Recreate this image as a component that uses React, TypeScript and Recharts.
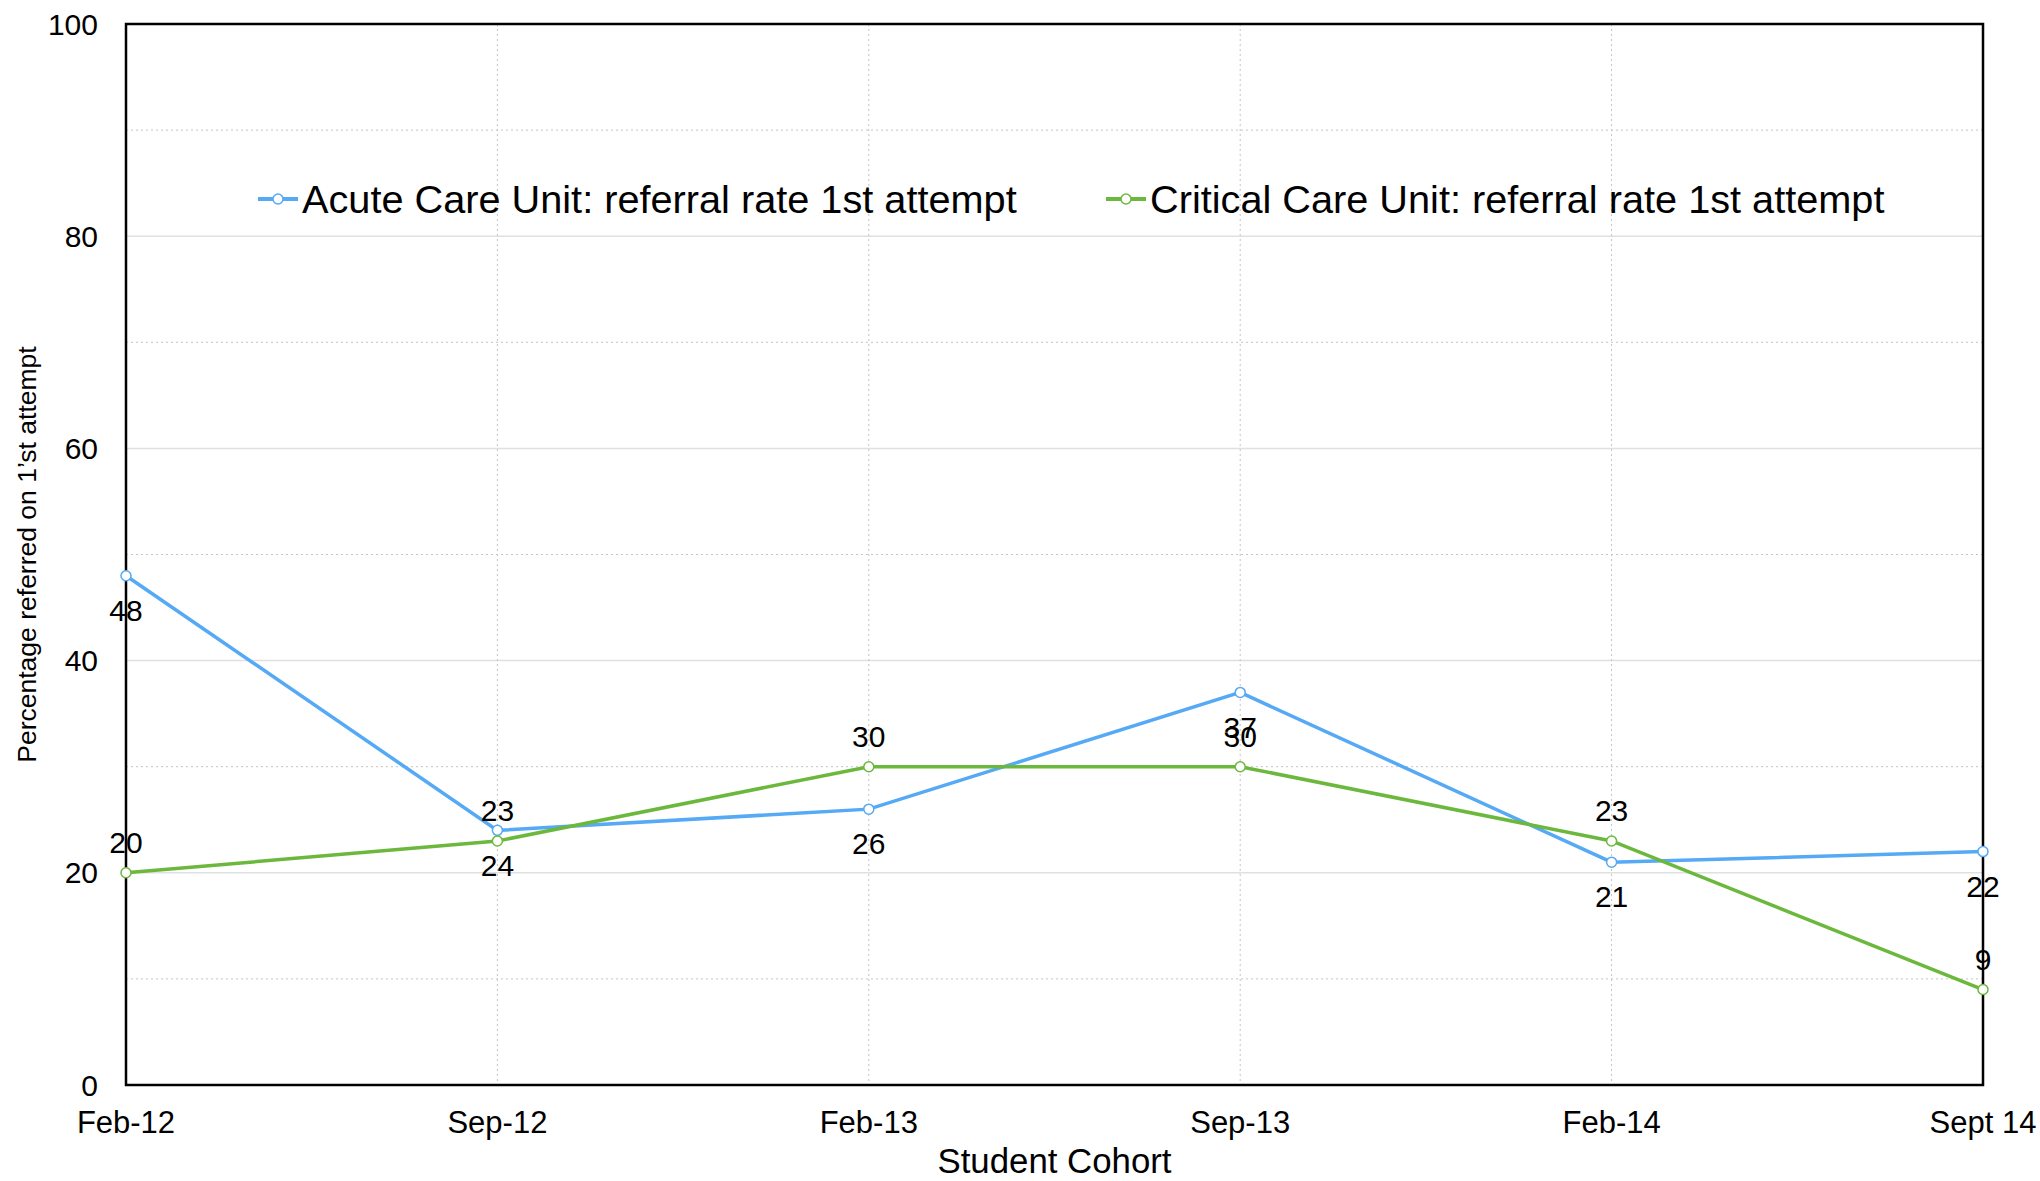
import {
  LineChart,
  Line,
  XAxis,
  YAxis,
  CartesianGrid,
  ReferenceArea,
  LabelList,
  Legend,
  Label,
} from 'recharts';

const FONT = '"Liberation Sans", Arial, Helvetica, sans-serif';
const ACUTE_COLOR = '#55a9f5';
const CRITICAL_COLOR = '#6cb83c';

const cohorts = ['Feb-12', 'Sep-12', 'Feb-13', 'Sep-13', 'Feb-14', 'Sept 14'];
const acuteRate = [48, 24, 26, 37, 21, 22];
const criticalRate = [20, 23, 30, 30, 23, 9];
const yTicks = [0, 20, 40, 60, 80, 100];
const minorGrid = [10, 30, 50, 70, 90];

const ACUTE_NAME = 'Acute Care Unit: referral rate 1st attempt';
const CRITICAL_NAME = 'Critical Care Unit: referral rate 1st attempt';

const chartData = cohorts.map((cohort, i) => ({
  cohort,
  acute: acuteRate[i],
  critical: criticalRate[i],
}));

function LegendIcon({ color }: { color: string }) {
  return (
    <svg width={40} height={14} style={{ display: 'block' }}>
      <line x1={0} y1={7} x2={40} y2={7} stroke={color} strokeWidth={4} />
      <circle cx={20} cy={7} r={5} fill="#fff" stroke={color} strokeWidth={1.5} />
    </svg>
  );
}

function ChartLegend() {
  const items = [
    { name: ACUTE_NAME, color: ACUTE_COLOR, left: 258 },
    { name: CRITICAL_NAME, color: CRITICAL_COLOR, left: 1106 },
  ];
  return (
    <div style={{ position: 'relative', height: 50, width: 1700 }}>
      {items.map((it) => (
        <div
          key={it.name}
          style={{
            position: 'absolute',
            left: it.left - 258,
            top: 0,
            display: 'flex',
            alignItems: 'center',
            fontFamily: FONT,
            fontSize: 39.7,
            color: '#000',
            whiteSpace: 'nowrap',
            lineHeight: '50px',
          }}
        >
          <LegendIcon color={it.color} />
          <span style={{ marginLeft: 4 }}>{it.name}</span>
        </div>
      ))}
    </div>
  );
}

export default function App() {
  return (
    <div style={{ position: 'absolute', left: 0, top: 0, background: '#fff' }}>
      <LineChart
        width={2040}
        height={1181}
        data={chartData}
        margin={{ top: 24, right: 57, left: 26, bottom: 36 }}
        style={{ fontFamily: FONT }}
      >
        <CartesianGrid vertical={false} horizontalValues={yTicks} stroke="#e0e0e0" strokeWidth={1.5} />
        <CartesianGrid
          horizontalValues={minorGrid}
          stroke="#c4c4c4"
          strokeDasharray="2 3"
          strokeWidth={1}
        />
        <XAxis
          dataKey="cohort"
          interval={0}
          axisLine={false}
          tickLine={false}
          tickSize={0}
          tickMargin={26}
          height={60}
          tick={{ fill: '#000', fontSize: 31, fontFamily: FONT }}
        >
          <Label
            content={({ viewBox }: any) => (
              <text
                x={viewBox.x + viewBox.width / 2}
                y={1173}
                textAnchor="middle"
                fontSize={34.8}
                fontFamily={FONT}
                fill="#000"
              >
                Student Cohort
              </text>
            )}
          />
        </XAxis>
        <YAxis
          domain={[0, 100]}
          ticks={yTicks}
          interval={0}
          axisLine={false}
          tickLine={false}
          tickSize={0}
          tickMargin={28}
          width={100}
          tick={{ fill: '#000', fontSize: 30, fontFamily: FONT }}
        >
          <Label
            content={({ viewBox }: any) => {
              const cy = viewBox.y + viewBox.height / 2;
              return (
                <text
                  x={27}
                  y={cy}
                  transform={`rotate(-90 27 ${cy})`}
                  textAnchor="middle"
                  dominantBaseline="central"
                  fontSize={26.5}
                  fontFamily={FONT}
                  fill="#000"
                >
                  Percentage referred on 1’st attempt
                </text>
              );
            }}
          />
        </YAxis>
        <ReferenceArea
          x1={cohorts[0]}
          x2={cohorts[cohorts.length - 1]}
          y1={0}
          y2={100}
          fill="none"
          stroke="#000"
          strokeWidth={2.5}
          ifOverflow="visible"
        />
        <Legend
          layout="horizontal"
          verticalAlign="middle"
          align="center"
          wrapperStyle={{ position: 'absolute', top: 174, left: 258, width: 1700 }}
          content={() => <ChartLegend />}
        />
        <Line
          type="linear"
          dataKey="acute"
          name={ACUTE_NAME}
          stroke={ACUTE_COLOR}
          strokeWidth={3.5}
          dot={{ r: 5, fill: '#fff', stroke: ACUTE_COLOR, strokeWidth: 1.5 }}
          activeDot={false}
          isAnimationActive={false}
        >
          <LabelList dataKey="acute" position="bottom" offset={24} fill="#000" fontSize={30} fontFamily={FONT} />
        </Line>
        <Line
          type="linear"
          dataKey="critical"
          name={CRITICAL_NAME}
          stroke={CRITICAL_COLOR}
          strokeWidth={3.5}
          dot={{ r: 5, fill: '#fff', stroke: CRITICAL_COLOR, strokeWidth: 1.5 }}
          activeDot={false}
          isAnimationActive={false}
        >
          <LabelList dataKey="critical" position="top" offset={20} fill="#000" fontSize={30} fontFamily={FONT} />
        </Line>
      </LineChart>
    </div>
  );
}
